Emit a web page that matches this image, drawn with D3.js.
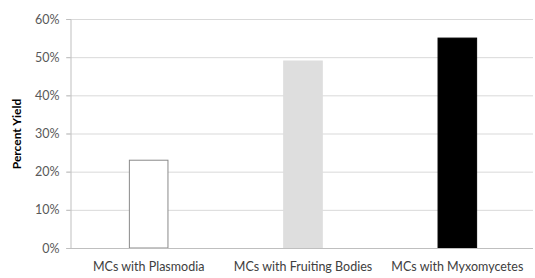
<!DOCTYPE html>
<html><head><meta charset="utf-8">
<script src="https://cdn.jsdelivr.net/npm/d3@7"></script>
<style>body{margin:0;background:#fff}svg{display:block}</style>
</head><body>
<svg id="c" width="535" height="278"></svg>
<script>
const categories = ["MCs with Plasmodia", "MCs with Fruiting Bodies", "MCs with Myxomycetes"];
const values = [0.23, 0.49, 0.55];
const fills = ["#ffffff", "#dedede", "#000000"];
const strokes = ["#8a8a8a", "#dedede", "#000000"];
const tickValues = [0, 0.1, 0.2, 0.3, 0.4, 0.5, 0.6];

const svg = d3.select("#c");
const L = 70, R = 533, T = 19, B = 248;
const x = d3.scaleBand().domain(categories).range([L, R]).padding(0);
const y = d3.scaleLinear().domain([0, 0.6]).range([B, T]);
const font = "Lato, 'Open Sans', sans-serif";

// gridlines
svg.append("g").selectAll("line").data(tickValues).join("line")
  .attr("x1", L - 4).attr("x2", R).attr("y1", d => y(d) + 0.5).attr("y2", d => y(d) + 0.5)
  .attr("stroke", "#d9d9d9").attr("stroke-width", 1);

// y axis
const yAxis = d3.axisLeft(y).tickValues(tickValues).tickFormat(d3.format(".0%")).tickSize(4).tickPadding(7);
const gy = svg.append("g").attr("transform", `translate(${L + 0.5},0)`).call(yAxis);
gy.select(".domain").attr("stroke", "#bfbfbf");
gy.selectAll(".tick line").attr("stroke", "#bfbfbf");
gy.selectAll(".tick text").attr("fill", "#595959").style("font-family", font).style("font-size", "12.5px");

// bars
const bw = x.bandwidth() * 0.25;
svg.append("g").selectAll("rect").data(values).join("rect")
  .attr("x", (d, i) => x(categories[i]) + x.bandwidth() / 2 - bw / 2 + 1.5)
  .attr("y", d => y(d))
  .attr("width", bw)
  .attr("height", d => B - y(d))
  .attr("fill", (d, i) => fills[i])
  .attr("stroke", (d, i) => strokes[i]).attr("stroke-width", 1);

// x axis baseline
svg.append("line").attr("x1", L).attr("x2", R).attr("y1", B + 0.5).attr("y2", B + 0.5).attr("stroke", "#bfbfbf");

// x labels
svg.append("g").selectAll("text").data(categories).join("text")
  .attr("x", d => x(d) + x.bandwidth() / 2 + 1.5)
  .attr("y", 271)
  .attr("text-anchor", "middle")
  .attr("fill", "#404040")
  .style("font-family", font).style("font-size", "12.5px")
  .text(d => d);

// y label
svg.append("text")
  .attr("transform", "translate(21,134) rotate(-90)")
  .attr("text-anchor", "middle")
  .attr("fill", "#000")
  .style("font-family", font).style("font-size", "12px").style("font-weight", "bold")
  .text("Percent Yield");
</script>
</body></html>
